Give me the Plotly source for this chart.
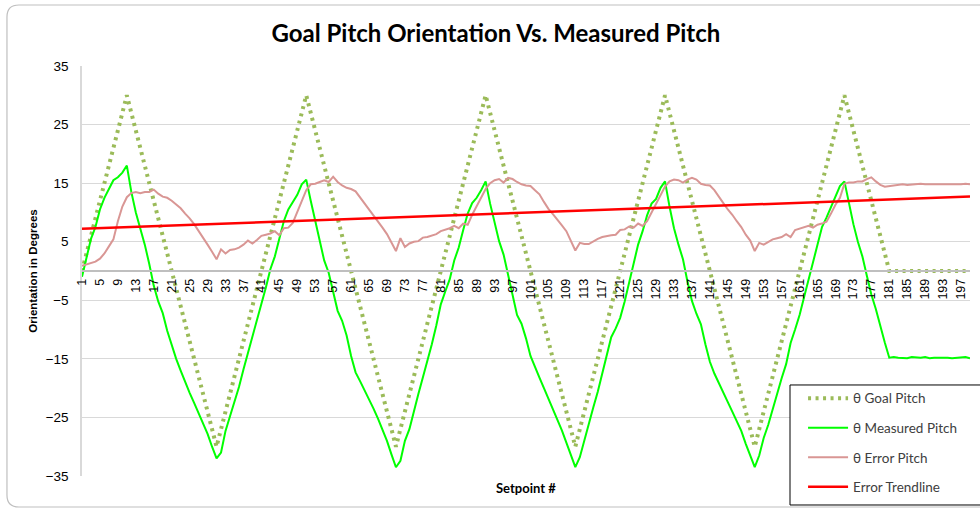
import plotly.graph_objects as go

setpoints = list(range(1, 200))

goal_pitch = [
    0, 3, 6, 9, 12, 15, 18, 21, 24, 27, 30,
    27, 24, 21, 18, 15, 12, 9, 6, 3, 0, -3, -6, -9, -12, -15, -18, -21, -24, -27, -30,
    -27, -24, -21, -18, -15, -12, -9, -6, -3, 0, 3, 6, 9, 12, 15, 18, 21, 24, 27, 30,
    27, 24, 21, 18, 15, 12, 9, 6, 3, 0, -3, -6, -9, -12, -15, -18, -21, -24, -27, -30,
    -27, -24, -21, -18, -15, -12, -9, -6, -3, 0, 3, 6, 9, 12, 15, 18, 21, 24, 27, 30,
    27, 24, 21, 18, 15, 12, 9, 6, 3, 0, -3, -6, -9, -12, -15, -18, -21, -24, -27, -30,
    -27, -24, -21, -18, -15, -12, -9, -6, -3, 0, 3, 6, 9, 12, 15, 18, 21, 24, 27, 30,
    27, 24, 21, 18, 15, 12, 9, 6, 3, 0, -3, -6, -9, -12, -15, -18, -21, -24, -27, -30,
    -27, -24, -21, -18, -15, -12, -9, -6, -3, 0, 3, 6, 9, 12, 15, 18, 21, 24, 27, 30,
    27, 24, 21, 18, 15, 12, 9, 6, 3, 0,
    0, 0, 0, 0, 0, 0, 0, 0, 0, 0, 0, 0, 0, 0, 0, 0, 0, 0,
]

measured_pitch = [
    -1, 2.5, 5.5, 7.5, 10.5, 12.5, 14, 15.5, 16, 16.8, 18,
    13.5, 10, 7.2, 4.5, 1.2, -2.5, -5.2, -7.2, -10.2, -12.8, -15, -17, -19, -20.8,
    -22.5, -24.2, -25.8, -27.8, -30, -32,
    -31, -27.3, -24.8, -22.5, -19.8, -16.8, -14, -11.3, -8.8, -6, -2.8, 0.3, 2.5,
    5.5, 8.5, 10.5, 11.8, 13, 14.8, 15.6,
    12, 8.5, 5, 1.8, -0.3, -3.5, -6.8, -8.5, -11, -14.5, -17.3, -18.8, -20.3, -22,
    -23.5, -25.2, -27, -29, -31.3, -33.5,
    -32.4, -29, -27, -23.8, -21, -18.2, -15.5, -12.5, -9.3, -5.7, -3.5, -1.4, 1.8,
    4, 7, 9.8, 11.6, 12.5, 13.8, 15.3,
    11.5, 8, 5.1, 2.8, -0.5, -4, -7.5, -9, -11.5, -14.5, -16.5, -18.2, -20, -21.8,
    -23.5, -25.2, -27.2, -29.3, -31.4, -33.5,
    -31.8, -28.8, -26.1, -23.3, -20.6, -17.4, -14.5, -11.3, -9.8, -8, -5.2, -2,
    1.5, 4.5, 6.8, 9.5, 11.5, 12.3, 14.2, 15.3,
    11, 7.3, 4.5, 2, -1.8, -5.1, -7.3, -9.1, -12.5, -15.5, -17.5, -19.2, -21, -22.4,
    -24, -25.6, -27.3, -29.5, -31.5, -33.5,
    -31.5, -28.5, -26.3, -23.5, -21, -18.3, -15.9, -12.3, -10, -7.5, -4.5, -1.5,
    2, 5, 7.5, 9.1, 11, 12.8, 14.5, 15.3,
    11.6, 8, 5, 2.5, -0.8, -4, -6.5, -9.5, -12.2, -14.8,
    -14.7, -14.8, -14.8, -14.9, -14.7, -14.8, -14.8, -14.7, -14.9, -14.8, -14.8,
    -14.7, -14.8, -14.9, -14.8, -14.8, -14.7, -14.9,
]

error_pitch = [
    0.9, 1.1, 1.3, 1.6, 2.1, 3, 4.2, 5.4, 8.5, 11, 12.6,
    13.3, 13.5, 13.3, 13.5, 13.5, 13.9, 13.2, 12.7, 12.5, 12, 11.3, 10.7, 9.8, 9,
    8, 6.9, 5.7, 4.5, 3.3, 2,
    3.7, 3, 3.6, 3.7, 4, 4.5, 5.2, 4.7, 5.3, 6, 6.2, 6.4, 6.8, 6.1, 7.3, 7.4, 8.2,
    10, 12, 13.8,
    14.8, 14.9, 15.2, 15.5, 15.2, 16.1, 15.2, 14.6, 14.2, 14, 13.6, 12.6, 11.5,
    10.5, 9.5, 8.5, 7.4, 6.3, 4.8, 3.4,
    5.6, 4.1, 4.7, 5, 5.1, 5.7, 5.8, 6, 6.3, 6.8, 7, 7.3, 7.7, 7.3, 8.1, 7.9, 9.6,
    11.1, 12.5, 14,
    15, 15.5, 15.7, 15.1, 15.9, 15.7, 15.2, 14.8, 14.6, 14.5, 13.8, 13.1, 11.8,
    10.6, 9.7, 8.8, 7.8, 6.8, 5.2, 3.5,
    4.8, 4.6, 4.6, 5.1, 5.5, 5.8, 6, 6.1, 6.2, 7, 7.1, 7.6, 7.4, 8.1, 7.7, 8.5, 10,
    11.4, 13, 14.4,
    15.3, 15.6, 15.5, 15.1, 15.6, 15.9, 15.6, 14.9, 14.7, 14.6, 13.8, 12.6, 11.6,
    10.5, 9.6, 8.5, 7.5, 6.2, 5.2, 3.4,
    4.8, 4.5, 4.9, 5.4, 5.6, 5.8, 6.3, 5.8, 7, 7.2, 7.5, 7.7, 7.4, 7.9, 8.1, 8.4,
    9.8, 11.3, 12.5, 14.9,
    15.1, 15.1, 15.3, 15.3, 15.7, 16, 15.3, 14.7, 14.4, 14.5,
    14.7, 14.8, 14.8, 14.7, 14.8, 14.8, 14.9, 14.8, 14.8, 14.7, 14.8, 14.8, 14.8,
    14.7, 14.8, 14.8, 14.9, 14.8,
]

trend_x = [1, 199]
trend_y = [7.2, 12.7]

x_tick_vals = list(range(1, 198, 4))
x_tick_text = [str(v) for v in x_tick_vals]
y_tick_vals = [-35, -25, -15, -5, 5, 15, 25, 35]

fig = go.Figure()
fig.add_trace(go.Scatter(
    x=setpoints, y=goal_pitch, mode="lines", name="\u03b8 Goal Pitch",
    legendgroup="g1",
    line=dict(color="#9BBB59", width=4, dash="3px,4.5px"),
))
fig.add_trace(go.Scatter(
    x=setpoints, y=measured_pitch, mode="lines", name="\u03b8 Measured Pitch",
    legendgroup="g2",
    line=dict(color="#00FF00", width=2),
))
fig.add_trace(go.Scatter(
    x=setpoints, y=error_pitch, mode="lines", name="\u03b8 Error Pitch",
    legendgroup="g3",
    line=dict(color="#D99694", width=2),
))
fig.add_trace(go.Scatter(
    x=trend_x, y=trend_y, mode="lines", name="Error Trendline",
    legendgroup="g4",
    line=dict(color="#FF0000", width=2.5),
))

# outer rounded chart border (paper coords relative to plot area)
L, T, B, R = -0.0845, 1.1488, -0.0756, 1.03
dx, dy = 0.0135, 0.0293
border = (f"M {R},{T} L {L+dx},{T} Q {L},{T} {L},{T-dy} "
          f"L {L},{B+dy} Q {L},{B} {L+dx},{B} L {R},{B}")

fig.update_layout(
    width=980, height=510,
    margin=dict(l=82, r=10, t=66, b=34, autoexpand=False),
    paper_bgcolor="white", plot_bgcolor="white",
    title=dict(text="<b>Goal Pitch Orientation Vs. Measured Pitch</b>",
               x=0.506, xref="container", xanchor="center",
               y=0.935, yref="container", yanchor="middle",
               font=dict(family="Lato", size=24, color="#000000")),
    font=dict(family="Liberation Sans", color="#000000"),
    xaxis=dict(
        type="linear", range=[1, 199], anchor="free", position=0.5,
        tickmode="array", tickvals=x_tick_vals, ticktext=x_tick_text,
        tickangle=-90, tickfont=dict(size=12.5, family="Liberation Sans", color="#000000"),
        showgrid=False, zeroline=False, showline=True, linecolor="#BFBFBF", linewidth=1.5,
        ticks="", ticklabelstandoff=2, automargin=False,
    ),
    yaxis=dict(
        range=[-35, 35], tickmode="array", tickvals=y_tick_vals,
        tickfont=dict(size=13.5, family="Liberation Sans", color="#000000"),
        showgrid=True, gridcolor="#D9D9D9", gridwidth=1,
        zeroline=False, showline=True, linecolor="#D9D9D9", linewidth=1.5,
        ticks="", ticklabelstandoff=9, automargin=False,
        title=dict(text="<b>Orientation in Degrees</b>",
                   font=dict(size=11.5, family="Liberation Sans", color="#000000"),
                   standoff=6),
    ),
    legend=dict(
        x=0.812, y=0.227, xanchor="left", yanchor="top",
        bgcolor="rgba(0,0,0,0)", borderwidth=0,
        font=dict(family="Lato", size=13.5, color="#404040"),
        itemwidth=40, tracegroupgap=9,
    ),
    annotations=[dict(
        text="<b>Setpoint #</b>", x=0.5, y=-0.029, xref="paper", yref="paper",
        xanchor="center", yanchor="middle", showarrow=False,
        font=dict(family="Lato", size=13, color="#000000"),
    )],
    shapes=[
        dict(type="path", path=border, xref="paper", yref="paper",
             line=dict(color="#BFBFBF", width=1.2), layer="below"),
        dict(type="rect", xref="paper", yref="paper",
             x0=0.7973, x1=1.03, y0=-0.0707, y1=0.222,
             fillcolor="white", line=dict(color="#000000", width=1), layer="above"),
    ],
)

fig.write_html("out.html",
               config={"displayModeBar": False},
               post_script="document.body.style.margin='0px';document.body.style.padding='0px';")
